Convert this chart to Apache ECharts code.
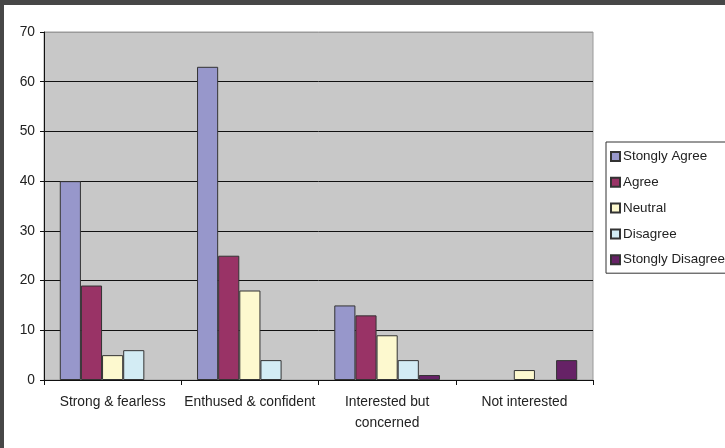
<!DOCTYPE html>
<html><head><meta charset="utf-8">
<script src="https://cdn.jsdelivr.net/npm/echarts@6/dist/echarts.min.js"></script>
<style>html,body{margin:0;padding:0;background:#fff}#c{width:725px;height:448px}</style>
</head><body><div id="c"></div>
<script>
const categories = ['Strong & fearless', 'Enthused & confident', 'Interested but\nconcerned', 'Not interested'];
const seriesNames = ['Stongly Agree', 'Agree', 'Neutral', 'Disagree', 'Stongly Disagree'];
const stronglyAgree = [40, 63, 15, 0];
const agree = [19, 25, 13, 0];
const neutral = [5, 18, 9, 2];
const disagree = [6, 4, 4, 0];
const stronglyDisagree = [0, 0, 1, 4];
const yTicks = [0, 10, 20, 30, 40, 50, 60, 70];

const values = [stronglyAgree, agree, neutral, disagree, stronglyDisagree];
const colors = ['#9797CB', '#993366', '#FDF9CF', '#D3ECF4', '#662266'];
const font = 'Liberation Sans, Arial, sans-serif';
const fs = 13.8;

const chart = echarts.init(document.getElementById('c'), null, {renderer: 'canvas'});
chart.setOption({
  animation: false,
  backgroundColor: '#fff',
  grid: {left: 44, right: 132, top: 32, bottom: 68, show: true, backgroundColor: '#C8C8C8', borderColor: '#9a9a9a', borderWidth: 1},
  legend: {
    orient: 'vertical', left: 606, top: 142,
    data: seriesNames,
    icon: 'rect', itemWidth: 9, itemHeight: 9, itemGap: 10.8,
    padding: [7, 20, 6, 4],
    borderColor: '#333', borderWidth: 1,
    textStyle: {fontFamily: font, fontSize: 13.4, color: '#222', lineHeight: 15, padding: [0, 0, 0, -2]}
  },
  xAxis: {
    type: 'category', data: categories,
    axisLine: {lineStyle: {color: '#111', width: 1}},
    axisTick: {show: true, length: 5, lineStyle: {color: '#111'}},
    axisLabel: {fontFamily: font, fontSize: fs, color: '#222', margin: 12, lineHeight: 21, interval: 0}
  },
  yAxis: {
    type: 'value', min: yTicks[0], max: yTicks[yTicks.length - 1], interval: 10,
    axisLine: {show: true, lineStyle: {color: '#111'}},
    axisTick: {show: true, length: 4, lineStyle: {color: '#111'}},
    axisLabel: {fontFamily: font, fontSize: fs, color: '#222', margin: 9},
    splitLine: {lineStyle: {color: ['#111','#111','#111','#111','#111','#111','#111','#9a9a9a'], width: 1}}
  },
  series: seriesNames.map((n, i) => ({
    name: n, type: 'bar', data: values[i].map(v => v === 0 ? null : v),
    barGap: 0, barCategoryGap: '23%',
    itemStyle: {color: colors[i], borderColor: '#333', borderWidth: 1}
  })),
  graphic: [
    {type: 'rect', shape: {x: 0, y: 0, width: 725, height: 5}, style: {fill: '#474747'}, z: 100},
    {type: 'rect', shape: {x: 0, y: 0, width: 4, height: 448}, style: {fill: '#474747'}, z: 100}
  ]
});
</script></body></html>
